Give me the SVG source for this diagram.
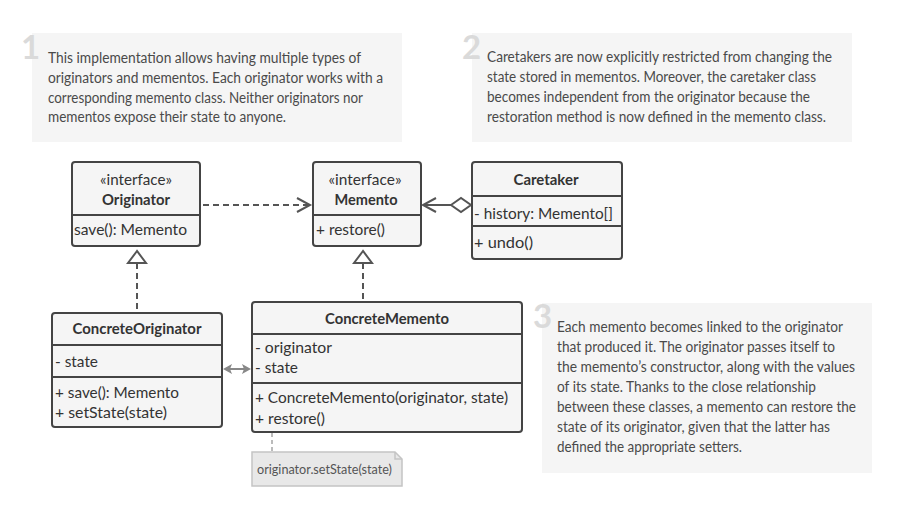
<svg xmlns="http://www.w3.org/2000/svg" width="910" height="511" viewBox="0 0 910 511">
<style>
.nbox{fill:#f5f5f5;stroke:none}
.num{font-family:"Lato","Open Sans",sans-serif;font-weight:bold;font-size:33px;fill:#dadada}
.nt{font-family:"Lato","Open Sans",sans-serif;font-size:14.8px;fill:#4a4a4a}
.cls{fill:#f5f5f5;stroke:#444;stroke-width:2}
.div{stroke:#444;stroke-width:2;fill:none}
.t{font-family:"Lato","Open Sans",sans-serif;font-size:15px;fill:#333}
.b{font-weight:bold;text-anchor:middle}
.c{text-anchor:middle}
.con{stroke:#555;stroke-width:2;fill:none}
.dash{stroke-dasharray:6,4}
.tri{fill:#fff;stroke:#555;stroke-width:2}
</style>
<rect width="910" height="511" fill="#fff"/>

<g id="note1">
<rect class="nbox" x="32" y="33" width="370" height="109"/>
<text class="num" x="21" y="59">1</text>
<text class="nt" x="48" y="63" textLength="313" lengthAdjust="spacingAndGlyphs">This implementation allows having multiple types of</text>
<text class="nt" x="48" y="83" textLength="335" lengthAdjust="spacingAndGlyphs">originators and mementos. Each originator works with a</text>
<text class="nt" x="48" y="103" textLength="315" lengthAdjust="spacingAndGlyphs">corresponding memento class. Neither originators nor</text>
<text class="nt" x="48" y="122" textLength="238" lengthAdjust="spacingAndGlyphs">mementos expose their state to anyone.</text>
</g>

<g id="note2">
<rect class="nbox" x="472" y="33" width="380" height="109"/>
<text class="num" x="462" y="59">2</text>
<text class="nt" x="487" y="62" textLength="345" lengthAdjust="spacingAndGlyphs">Caretakers are now explicitly restricted from changing the</text>
<text class="nt" x="487" y="82" textLength="329" lengthAdjust="spacingAndGlyphs">state stored in mementos. Moreover, the caretaker class</text>
<text class="nt" x="487" y="102" textLength="323" lengthAdjust="spacingAndGlyphs">becomes independent from the originator because the</text>
<text class="nt" x="487" y="122" textLength="339" lengthAdjust="spacingAndGlyphs">restoration method is now defined in the memento class.</text>
</g>

<g id="note3">
<rect class="nbox" x="542" y="303" width="330" height="170"/>
<text class="num" x="533" y="328">3</text>
<text class="nt" x="557" y="332" textLength="286" lengthAdjust="spacingAndGlyphs">Each memento becomes linked to the originator</text>
<text class="nt" x="557" y="352" textLength="278" lengthAdjust="spacingAndGlyphs">that produced it. The originator passes itself to</text>
<text class="nt" x="557" y="372" textLength="298" lengthAdjust="spacingAndGlyphs">the memento’s constructor, along with the values</text>
<text class="nt" x="557" y="392" textLength="259" lengthAdjust="spacingAndGlyphs">of its state. Thanks to the close relationship</text>
<text class="nt" x="557" y="412" textLength="299" lengthAdjust="spacingAndGlyphs">between these classes, a memento can restore the</text>
<text class="nt" x="557" y="432" textLength="273" lengthAdjust="spacingAndGlyphs">state of its originator, given that the latter has</text>
<text class="nt" x="557" y="452" textLength="185" lengthAdjust="spacingAndGlyphs">defined the appropriate setters.</text>
</g>

<g id="connectors">
<line class="con dash" x1="203" y1="205" x2="309" y2="205"/>
<polyline class="con" points="297,198 310,205 297,212"/>
<line class="con" x1="423" y1="205" x2="451" y2="205"/>
<polyline class="con" points="436,198 423,205 436,212"/>
<polygon class="tri" points="451,205 461,198 471,205 461,212"/>
<line class="con dash" x1="137" y1="263" x2="137" y2="312"/>
<polygon class="tri" points="137,251 128,263 146,263"/>
<line class="con dash" x1="363" y1="263" x2="363" y2="302"/>
<polygon class="tri" points="363,251 354,263 372,263"/>
<line x1="228" y1="369" x2="245" y2="369" stroke="#888" stroke-width="2"/>
<polygon points="223,369 232,364 230,369 232,374" fill="#888"/>
<polygon points="251,369 242,364 244,369 242,374" fill="#888"/>
<line x1="272" y1="433" x2="272" y2="452" stroke="#bbb" stroke-width="2" stroke-dasharray="4,3"/>
</g>

<g id="Originator">
<rect class="cls" x="72" y="162" width="128" height="84" rx="3"/>
<line class="div" x1="72" y1="215" x2="200" y2="215"/>
<text class="t c" x="136" y="185" textLength="72" lengthAdjust="spacingAndGlyphs">«interface»</text>
<text class="t b" x="136" y="205" textLength="68" lengthAdjust="spacingAndGlyphs">Originator</text>
<text class="t" x="74" y="235" textLength="113" lengthAdjust="spacingAndGlyphs">save(): Memento</text>
</g>

<g id="Memento">
<rect class="cls" x="313" y="162" width="108" height="84" rx="3"/>
<line class="div" x1="313" y1="215" x2="421" y2="215"/>
<text class="t c" x="365" y="185" textLength="73" lengthAdjust="spacingAndGlyphs">«interface»</text>
<text class="t b" x="366" y="205" textLength="63" lengthAdjust="spacingAndGlyphs">Memento</text>
<text class="t" x="316" y="235" textLength="69" lengthAdjust="spacingAndGlyphs">+ restore()</text>
</g>

<g id="Caretaker">
<rect class="cls" x="472" y="162" width="150" height="97" rx="3"/>
<line class="div" x1="472" y1="196" x2="622" y2="196"/>
<line class="div" x1="472" y1="226" x2="622" y2="226"/>
<text class="t b" x="546" y="185" textLength="65" lengthAdjust="spacingAndGlyphs">Caretaker</text>
<text class="t" x="474" y="219" textLength="139" lengthAdjust="spacingAndGlyphs">- history: Memento[]</text>
<text class="t" x="474" y="248" textLength="59" lengthAdjust="spacingAndGlyphs">+ undo()</text>
</g>

<g id="ConcreteOriginator">
<rect class="cls" x="52" y="313" width="170" height="114" rx="3"/>
<line class="div" x1="52" y1="345" x2="222" y2="345"/>
<line class="div" x1="52" y1="377" x2="222" y2="377"/>
<text class="t b" x="137" y="334" textLength="129" lengthAdjust="spacingAndGlyphs">ConcreteOriginator</text>
<text class="t" x="55" y="367" textLength="43" lengthAdjust="spacingAndGlyphs">- state</text>
<text class="t" x="55" y="398" textLength="124" lengthAdjust="spacingAndGlyphs">+ save(): Memento</text>
<text class="t" x="55" y="418" textLength="112" lengthAdjust="spacingAndGlyphs">+ setState(state)</text>
</g>

<g id="ConcreteMemento">
<rect class="cls" x="252" y="302" width="270" height="130" rx="3"/>
<line class="div" x1="252" y1="334" x2="522" y2="334"/>
<line class="div" x1="252" y1="383" x2="522" y2="383"/>
<text class="t b" x="387" y="324" textLength="124" lengthAdjust="spacingAndGlyphs">ConcreteMemento</text>
<text class="t" x="255" y="353" textLength="77" lengthAdjust="spacingAndGlyphs">- originator</text>
<text class="t" x="255" y="373" textLength="43" lengthAdjust="spacingAndGlyphs">- state</text>
<text class="t" x="255" y="403" textLength="253" lengthAdjust="spacingAndGlyphs">+ ConcreteMemento(originator, state)</text>
<text class="t" x="255" y="424" textLength="70" lengthAdjust="spacingAndGlyphs">+ restore()</text>
</g>

<g id="note-setState">
<path d="M252,452 H395 L402,459 V486 H252 Z" fill="#e8e8e8" stroke="#c4c4c4" stroke-width="1.5"/>
<path d="M395,452 V459 H402" fill="none" stroke="#c4c4c4" stroke-width="1.5"/>
<text x="257" y="474" font-family="Lato,'Open Sans',sans-serif" font-size="13" fill="#555" textLength="135" lengthAdjust="spacingAndGlyphs">originator.setState(state)</text>
</g>
</svg>
